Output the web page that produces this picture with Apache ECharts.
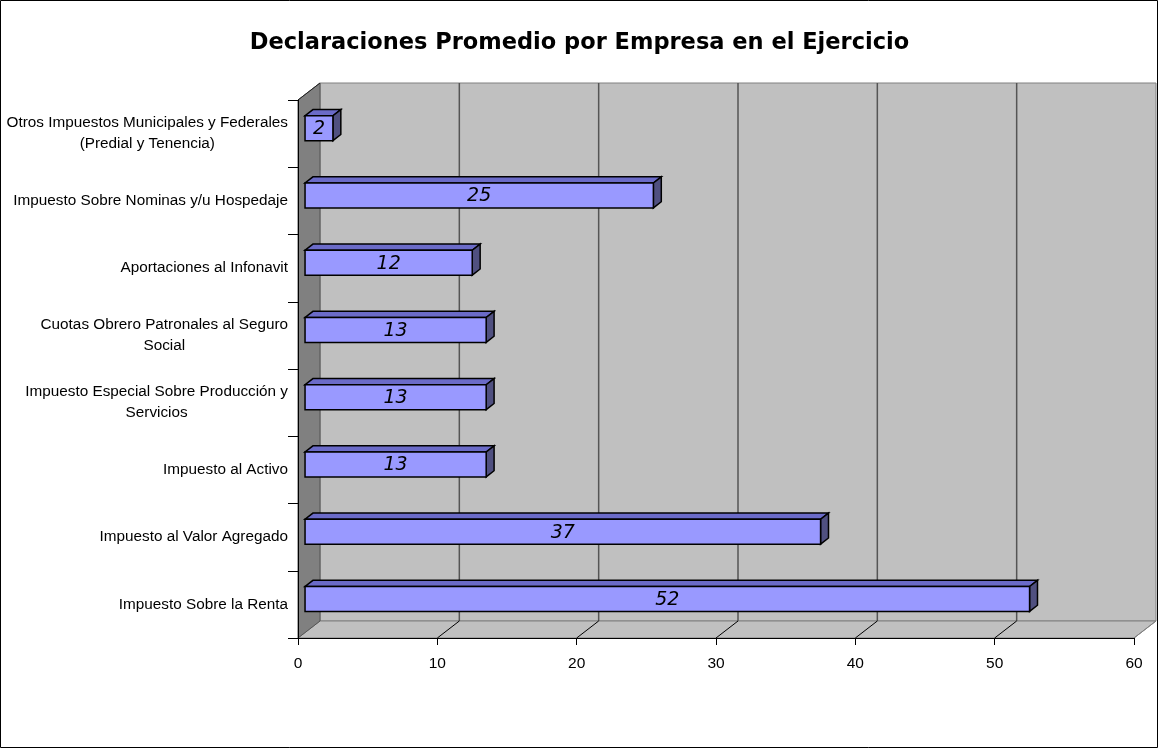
<!DOCTYPE html>
<html><head><meta charset="utf-8">
<script src="https://cdn.jsdelivr.net/npm/echarts@6/dist/echarts.min.js"></script>
<style>html,body{margin:0;padding:0;background:#fff}#c{width:1159px;height:749px}</style>
</head><body><div id="c"></div>
<script>
const titleText = 'Declaraciones Promedio por Empresa en el Ejercicio';
const categories = [
  'Impuesto Sobre la Renta',
  'Impuesto al Valor Agregado',
  'Impuesto al Activo',
  'Impuesto Especial Sobre Producción y\nServicios',
  'Cuotas Obrero Patronales al Seguro\nSocial',
  'Aportaciones al Infonavit',
  'Impuesto Sobre Nominas y/u Hospedaje',
  'Otros Impuestos Municipales y Federales\n(Predial y Tenencia)'
];
const values = [52, 37, 13, 13, 13, 12, 25, 2];
const xTicks = [0, 10, 20, 30, 40, 50, 60];

const DX = 22, DY = -17;          // depth vector of the 3D box
const F0 = 0.32, F1 = 0.68;       // bar depth range (fraction)

function wallsRender(params, api) {
  const cs = params.coordSys;
  const L = cs.x, T = cs.y, R = cs.x + cs.width, B = cs.y + cs.height;
  const ch = [];
  ch.push({type:'polygon', shape:{points:[[L+DX,T+DY],[R+DX,T+DY],[R+DX,B+DY],[L+DX,B+DY]]},
    style:{fill:'#C0C0C0', stroke:'#808080', lineWidth:1}});
  ch.push({type:'polygon', shape:{points:[[L,B],[L+DX,B+DY],[R+DX,B+DY],[R,B]]},
    style:{fill:'#C0C0C0', stroke:'#808080', lineWidth:1}});
  ch.push({type:'polygon', shape:{points:[[L,T],[L+DX,T+DY],[L+DX,B+DY],[L,B]]},
    style:{fill:'#808080', stroke:'#555555', lineWidth:1}});
  ch.push({type:'line', shape:{x1:L, y1:T, x2:L+DX, y2:T+DY}, style:{stroke:'#222', lineWidth:1}});
  xTicks.forEach((t, k) => {
    const x = api.coord([t, 0])[0];
    if (k > 0 && k < xTicks.length - 1) {
      ch.push({type:'line', shape:{x1:x+DX, y1:T+DY, x2:x+DX, y2:B+DY},
        style:{stroke:'#555555', lineWidth:1.5}});
    }
    if (k > 0) {
      ch.push({type:'line', shape:{x1:x, y1:B, x2:x+DX, y2:B+DY},
        style:{stroke: k === xTicks.length - 1 ? '#808080' : '#000', lineWidth:1}});
    }
  });
  return {type:'group', children:ch};
}

function barsRender(params, api) {
  const i = api.value(1);
  const s = api.coord([0, i]);
  const e = api.coord([api.value(0), i]);
  const bandH = api.size([0, 1])[1];
  const h = bandH * 0.37;
  const x0 = s[0] + DX * F0, x1 = e[0] + DX * F0;
  const yc = s[1] + DY * F0;
  const y0 = yc - h / 2, y1 = yc + h / 2;
  const bx = DX * (F1 - F0), by = DY * (F1 - F0);
  const st = {stroke:'#000', lineWidth:1.5, lineJoin:'miter'};
  return {type:'group', children:[
    {type:'polygon', shape:{points:[[x0,y0],[x1,y0],[x1+bx,y0+by],[x0+bx,y0+by]]},
      style:Object.assign({fill:'#6B6BC8'}, st)},
    {type:'polygon', shape:{points:[[x1,y0],[x1+bx,y0+by],[x1+bx,y1+by],[x1,y1]]},
      style:Object.assign({fill:'#505080'}, st)},
    {type:'rect', shape:{x:x0, y:y0, width:x1-x0, height:y1-y0},
      style:Object.assign({fill:'#9999FF'}, st)},
    {type:'text', x:(x0+x1)/2, y:yc + 1, style:{text:String(api.value(0)), align:'center', verticalAlign:'middle',
      fill:'#000', font:'italic 19px "DejaVu Sans", sans-serif'}}
  ]};
}

const labelFont = '"Liberation Sans", Arial, sans-serif';
const chart = echarts.init(document.getElementById('c'), null, {renderer:'canvas'});
chart.setOption({
  animation:false,
  backgroundColor:'#fff',
  title:{text:titleText, left:'center', top:27,
    textStyle:{fontFamily:'"DejaVu Sans", sans-serif', fontWeight:'bold', fontSize:22.5, color:'#000'}},
  graphic:[{type:'rect', shape:{x:0.5, y:0.5, width:1157, height:747}, style:{fill:null, stroke:'#000', lineWidth:1}, silent:true, z:100}],
  grid:{left:298, right:25, top:100, bottom:111},
  xAxis:{type:'value', min:0, max:60, interval:10, z:5,
    axisLine:{show:true, lineStyle:{color:'#000', width:1}},
    axisTick:{show:true, length:7, lineStyle:{color:'#000'}},
    splitLine:{show:false},
    axisLabel:{color:'#000', fontFamily:labelFont, fontSize:15.5, margin:18}},
  yAxis:{type:'category', data:categories, z:5,
    axisLine:{show:true, lineStyle:{color:'#000', width:1}},
    axisTick:{show:true, length:10, lineStyle:{color:'#000'}},
    splitLine:{show:false},
    axisLabel:{color:'#000', fontFamily:labelFont, fontSize:15.3, margin:10,
      lineHeight:21,
      formatter: v => v.split('\n').map(l => '{c|' + l + '}').join('\n'),
      rich:{c:{align:'center', fontSize:15.3, lineHeight:21, fontFamily:labelFont, color:'#000'}}}},
  series:[
    {type:'custom', z:1, silent:true, clip:false, data:[[0,0]], renderItem:wallsRender},
    {type:'custom', z:6, silent:true, clip:false, data:values.map((v,i)=>[v,i]), renderItem:barsRender}
  ]
});
</script></body></html>
